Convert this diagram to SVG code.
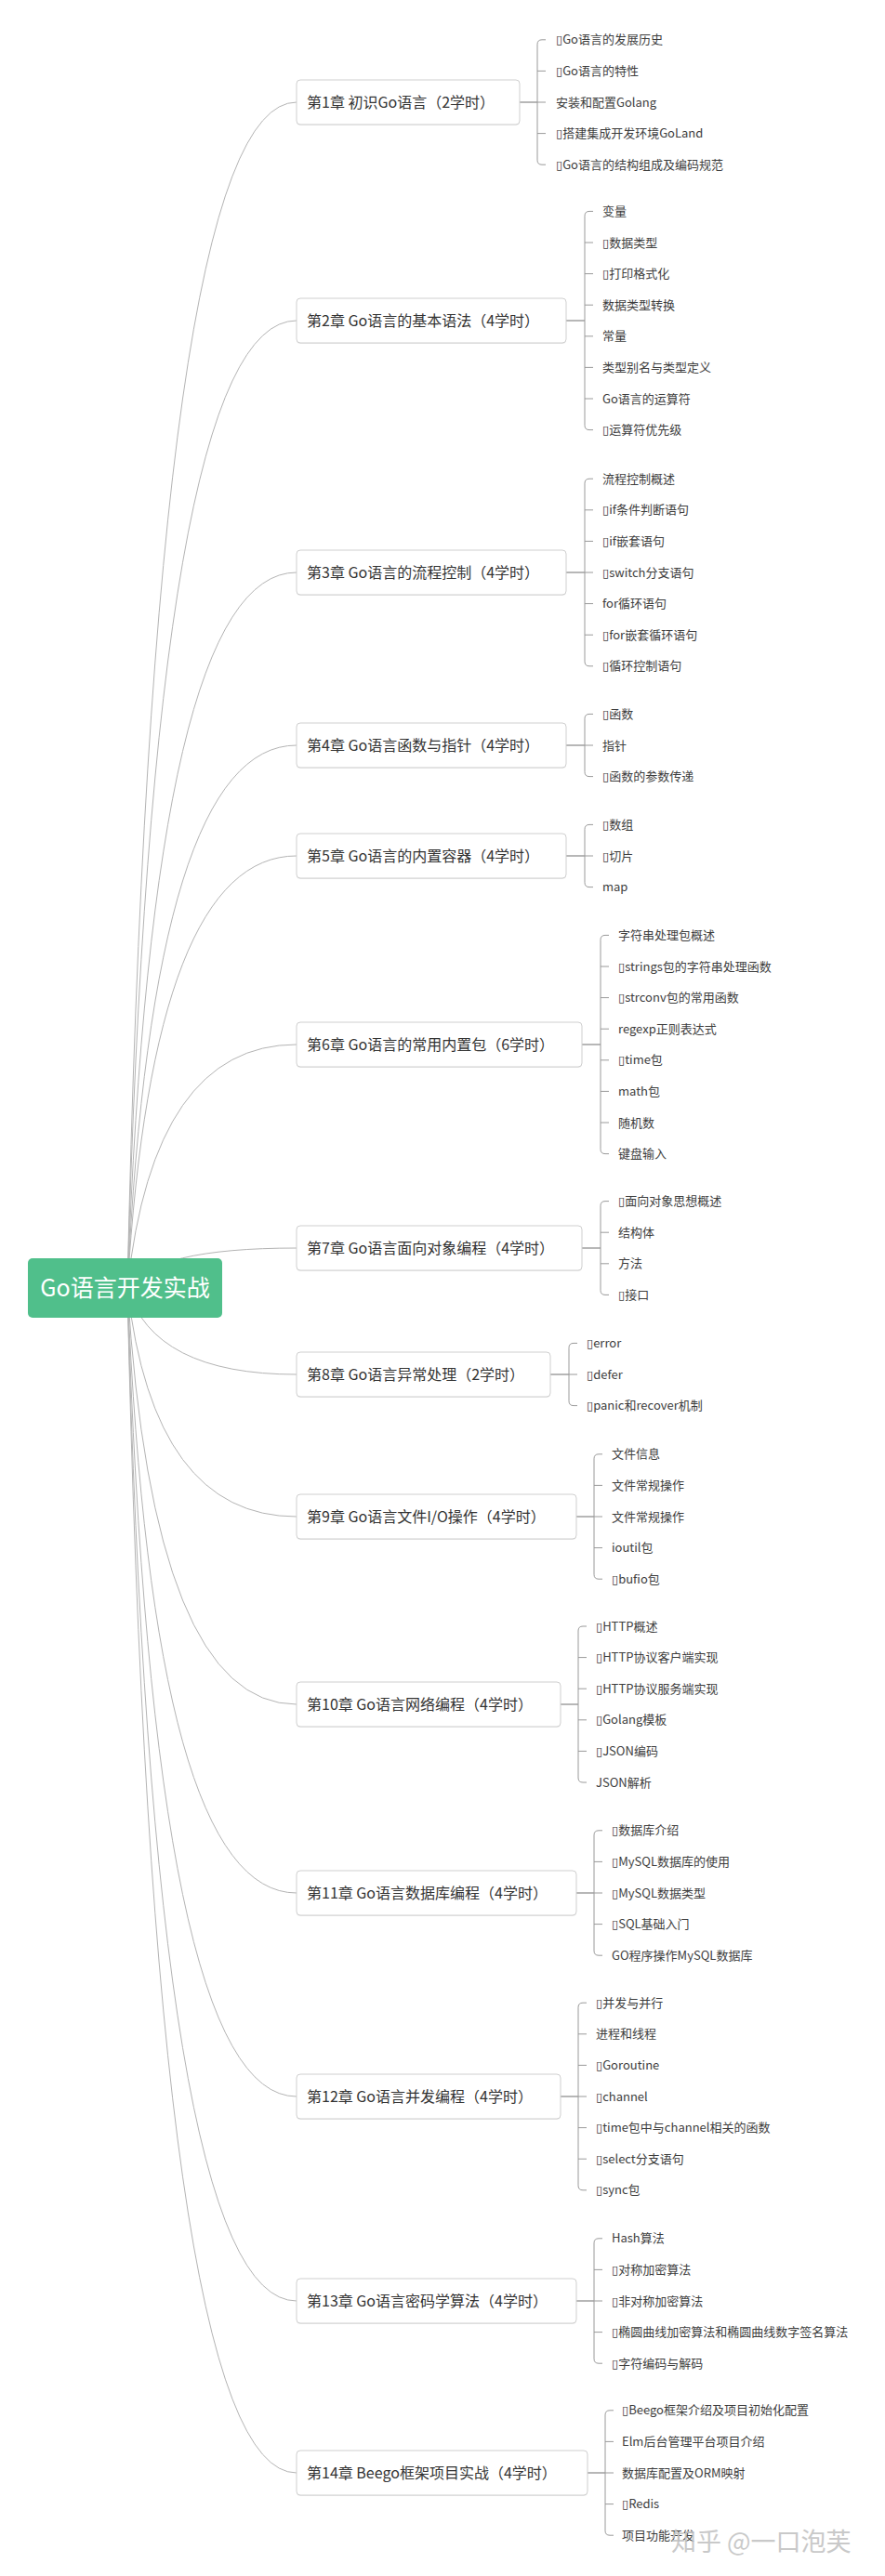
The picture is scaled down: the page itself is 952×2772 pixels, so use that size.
<svg xmlns="http://www.w3.org/2000/svg" width="952" height="2772" viewBox="0 0 952 2772">
<style>
.bg{fill:#ffffff}
.cv{fill:none;stroke:#b4b4b4;stroke-width:1}
.br{fill:none;stroke:#9a9a9a;stroke-width:1}
.st{fill:none;stroke:#999999;stroke-width:1.4}
.box{fill:#ffffff;stroke:#cfcfcf;stroke-width:1}
.sh{fill:#ededed}
.ct{font-family:"Noto Sans CJK SC","Noto Sans",sans-serif;font-size:16px;fill:#333333}
.it{font-family:"Noto Sans CJK SC","Noto Sans",sans-serif;font-size:13px;fill:#3d3d3d}
.t{font-family:"DejaVu Sans",sans-serif;font-size:13px}
.root{fill:#50bf8b}
.rt{font-family:"Noto Sans CJK SC","Noto Sans",sans-serif;font-size:25px;fill:#ffffff;text-anchor:middle}
.wm{font-family:"Noto Sans CJK SC","Noto Sans",sans-serif;font-size:27px;fill:#c4c4c4;opacity:0.9}
</style>
<rect class="bg" x="0" y="0" width="952" height="2772"/>
<g id="connectors">
<path class="cv" d="M137,1386 Q165,110 319,110"/>
<path class="cv" d="M137,1386 Q165,345 319,345"/>
<path class="cv" d="M137,1386 Q165,616 319,616"/>
<path class="cv" d="M137,1386 Q165,802 319,802"/>
<path class="cv" d="M137,1386 Q165,921 319,921"/>
<path class="cv" d="M137,1386 Q165,1124 319,1124"/>
<path class="cv" d="M137,1386 Q165,1343 319,1343"/>
<path class="cv" d="M137,1386 Q165,1479 319,1479"/>
<path class="cv" d="M137,1386 Q165,1632 319,1632"/>
<path class="cv" d="M137,1386 Q165,1834 319,1834"/>
<path class="cv" d="M137,1386 Q165,2037 319,2037"/>
<path class="cv" d="M137,1386 Q165,2256 319,2256"/>
<path class="cv" d="M137,1386 Q165,2476 319,2476"/>
<path class="cv" d="M137,1386 Q165,2661 319,2661"/>
<path class="st" d="M559,110 H578"/>
<path class="br" d="M587,42.8 H583 Q578,42.8 578,47.8 V172.2 Q578,177.2 583,177.2 H587 M578,76.4 H587 M578,110 H587 M578,143.6 H587"/>
<path class="st" d="M609,345 H629"/>
<path class="br" d="M638,227.4 H634 Q629,227.4 629,232.4 V457.6 Q629,462.6 634,462.6 H638 M629,261 H638 M629,294.6 H638 M629,328.2 H638 M629,361.8 H638 M629,395.4 H638 M629,429 H638"/>
<path class="st" d="M609,616 H629"/>
<path class="br" d="M638,515.2 H634 Q629,515.2 629,520.2 V711.8 Q629,716.8 634,716.8 H638 M629,548.8 H638 M629,582.4 H638 M629,616 H638 M629,649.6 H638 M629,683.2 H638"/>
<path class="st" d="M609,802 H629"/>
<path class="br" d="M638,768.4 H634 Q629,768.4 629,773.4 V830.6 Q629,835.6 634,835.6 H638 M629,802 H638"/>
<path class="st" d="M609,921 H629"/>
<path class="br" d="M638,887.4 H634 Q629,887.4 629,892.4 V949.6 Q629,954.6 634,954.6 H638 M629,921 H638"/>
<path class="st" d="M626,1124 H646"/>
<path class="br" d="M655,1006.4 H651 Q646,1006.4 646,1011.4 V1236.6 Q646,1241.6 651,1241.6 H655 M646,1040 H655 M646,1073.6 H655 M646,1107.2 H655 M646,1140.8 H655 M646,1174.4 H655 M646,1208 H655"/>
<path class="st" d="M626,1343 H646"/>
<path class="br" d="M655,1292.6 H651 Q646,1292.6 646,1297.6 V1388.4 Q646,1393.4 651,1393.4 H655 M646,1326.2 H655 M646,1359.8 H655"/>
<path class="st" d="M592,1479 H612"/>
<path class="br" d="M621,1445.4 H617 Q612,1445.4 612,1450.4 V1507.6 Q612,1512.6 617,1512.6 H621 M612,1479 H621"/>
<path class="st" d="M620,1632 H639"/>
<path class="br" d="M648,1564.8 H644 Q639,1564.8 639,1569.8 V1694.2 Q639,1699.2 644,1699.2 H648 M639,1598.4 H648 M639,1632 H648 M639,1665.6 H648"/>
<path class="st" d="M603,1834 H622"/>
<path class="br" d="M631,1750 H627 Q622,1750 622,1755 V1913 Q622,1918 627,1918 H631 M622,1783.6 H631 M622,1817.2 H631 M622,1850.8 H631 M622,1884.4 H631"/>
<path class="st" d="M620,2037 H639"/>
<path class="br" d="M648,1969.8 H644 Q639,1969.8 639,1974.8 V2099.2 Q639,2104.2 644,2104.2 H648 M639,2003.4 H648 M639,2037 H648 M639,2070.6 H648"/>
<path class="st" d="M603,2256 H622"/>
<path class="br" d="M631,2155.2 H627 Q622,2155.2 622,2160.2 V2351.8 Q622,2356.8 627,2356.8 H631 M622,2188.8 H631 M622,2222.4 H631 M622,2256 H631 M622,2289.6 H631 M622,2323.2 H631"/>
<path class="st" d="M620,2476 H639"/>
<path class="br" d="M648,2408.8 H644 Q639,2408.8 639,2413.8 V2538.2 Q639,2543.2 644,2543.2 H648 M639,2442.4 H648 M639,2476 H648 M639,2509.6 H648"/>
<path class="st" d="M632,2661 H651"/>
<path class="br" d="M660,2593.8 H656 Q651,2593.8 651,2598.8 V2723.2 Q651,2728.2 656,2728.2 H660 M651,2627.4 H660 M651,2661 H660 M651,2694.6 H660"/>
</g>
<g id="root">
<rect class="root" x="30" y="1354" width="209" height="64" rx="5"/>
<text class="rt" x="134.5" y="1395">Go语言开发实战</text>
</g>
<g id="ch1">
<rect class="sh" x="319" y="87" width="240" height="48" rx="4"/>
<rect class="box" x="319" y="86" width="240" height="48" rx="4"/>
<text class="ct" x="330" y="116">第1章 初识Go语言（2学时）</text>
<text class="it" x="598" y="47.3"><tspan class="t">▯</tspan>Go语言的发展历史</text>
<text class="it" x="598" y="80.9"><tspan class="t">▯</tspan>Go语言的特性</text>
<text class="it" x="598" y="114.5">安装和配置Golang</text>
<text class="it" x="598" y="148.1"><tspan class="t">▯</tspan>搭建集成开发环境GoLand</text>
<text class="it" x="598" y="181.7"><tspan class="t">▯</tspan>Go语言的结构组成及编码规范</text>
</g>
<g id="ch2">
<rect class="sh" x="319" y="322" width="290" height="48" rx="4"/>
<rect class="box" x="319" y="321" width="290" height="48" rx="4"/>
<text class="ct" x="330" y="351">第2章 Go语言的基本语法（4学时）</text>
<text class="it" x="648" y="231.9">变量</text>
<text class="it" x="648" y="265.5"><tspan class="t">▯</tspan>数据类型</text>
<text class="it" x="648" y="299.1"><tspan class="t">▯</tspan>打印格式化</text>
<text class="it" x="648" y="332.7">数据类型转换</text>
<text class="it" x="648" y="366.3">常量</text>
<text class="it" x="648" y="399.9">类型别名与类型定义</text>
<text class="it" x="648" y="433.5">Go语言的运算符</text>
<text class="it" x="648" y="467.1"><tspan class="t">▯</tspan>运算符优先级</text>
</g>
<g id="ch3">
<rect class="sh" x="319" y="593" width="290" height="48" rx="4"/>
<rect class="box" x="319" y="592" width="290" height="48" rx="4"/>
<text class="ct" x="330" y="622">第3章 Go语言的流程控制（4学时）</text>
<text class="it" x="648" y="519.7">流程控制概述</text>
<text class="it" x="648" y="553.3"><tspan class="t">▯</tspan>if条件判断语句</text>
<text class="it" x="648" y="586.9"><tspan class="t">▯</tspan>if嵌套语句</text>
<text class="it" x="648" y="620.5"><tspan class="t">▯</tspan>switch分支语句</text>
<text class="it" x="648" y="654.1">for循环语句</text>
<text class="it" x="648" y="687.7"><tspan class="t">▯</tspan>for嵌套循环语句</text>
<text class="it" x="648" y="721.3"><tspan class="t">▯</tspan>循环控制语句</text>
</g>
<g id="ch4">
<rect class="sh" x="319" y="779" width="290" height="48" rx="4"/>
<rect class="box" x="319" y="778" width="290" height="48" rx="4"/>
<text class="ct" x="330" y="808">第4章 Go语言函数与指针（4学时）</text>
<text class="it" x="648" y="772.9"><tspan class="t">▯</tspan>函数</text>
<text class="it" x="648" y="806.5">指针</text>
<text class="it" x="648" y="840.1"><tspan class="t">▯</tspan>函数的参数传递</text>
</g>
<g id="ch5">
<rect class="sh" x="319" y="898" width="290" height="48" rx="4"/>
<rect class="box" x="319" y="897" width="290" height="48" rx="4"/>
<text class="ct" x="330" y="927">第5章 Go语言的内置容器（4学时）</text>
<text class="it" x="648" y="891.9"><tspan class="t">▯</tspan>数组</text>
<text class="it" x="648" y="925.5"><tspan class="t">▯</tspan>切片</text>
<text class="it" x="648" y="959.1">map</text>
</g>
<g id="ch6">
<rect class="sh" x="319" y="1101" width="307" height="48" rx="4"/>
<rect class="box" x="319" y="1100" width="307" height="48" rx="4"/>
<text class="ct" x="330" y="1130">第6章 Go语言的常用内置包（6学时）</text>
<text class="it" x="665" y="1010.9">字符串处理包概述</text>
<text class="it" x="665" y="1044.5"><tspan class="t">▯</tspan>strings包的字符串处理函数</text>
<text class="it" x="665" y="1078.1"><tspan class="t">▯</tspan>strconv包的常用函数</text>
<text class="it" x="665" y="1111.7">regexp正则表达式</text>
<text class="it" x="665" y="1145.3"><tspan class="t">▯</tspan>time包</text>
<text class="it" x="665" y="1178.9">math包</text>
<text class="it" x="665" y="1212.5">随机数</text>
<text class="it" x="665" y="1246.1">键盘输入</text>
</g>
<g id="ch7">
<rect class="sh" x="319" y="1320" width="307" height="48" rx="4"/>
<rect class="box" x="319" y="1319" width="307" height="48" rx="4"/>
<text class="ct" x="330" y="1349">第7章 Go语言面向对象编程（4学时）</text>
<text class="it" x="665" y="1297.1"><tspan class="t">▯</tspan>面向对象思想概述</text>
<text class="it" x="665" y="1330.7">结构体</text>
<text class="it" x="665" y="1364.3">方法</text>
<text class="it" x="665" y="1397.9"><tspan class="t">▯</tspan>接口</text>
</g>
<g id="ch8">
<rect class="sh" x="319" y="1456" width="273" height="48" rx="4"/>
<rect class="box" x="319" y="1455" width="273" height="48" rx="4"/>
<text class="ct" x="330" y="1485">第8章 Go语言异常处理（2学时）</text>
<text class="it" x="631" y="1449.9"><tspan class="t">▯</tspan>error</text>
<text class="it" x="631" y="1483.5"><tspan class="t">▯</tspan>defer</text>
<text class="it" x="631" y="1517.1"><tspan class="t">▯</tspan>panic和recover机制</text>
</g>
<g id="ch9">
<rect class="sh" x="319" y="1609" width="301" height="48" rx="4"/>
<rect class="box" x="319" y="1608" width="301" height="48" rx="4"/>
<text class="ct" x="330" y="1638">第9章 Go语言文件I/O操作（4学时）</text>
<text class="it" x="658" y="1569.3">文件信息</text>
<text class="it" x="658" y="1602.9">文件常规操作</text>
<text class="it" x="658" y="1636.5">文件常规操作</text>
<text class="it" x="658" y="1670.1">ioutil包</text>
<text class="it" x="658" y="1703.7"><tspan class="t">▯</tspan>bufio包</text>
</g>
<g id="ch10">
<rect class="sh" x="319" y="1811" width="284" height="48" rx="4"/>
<rect class="box" x="319" y="1810" width="284" height="48" rx="4"/>
<text class="ct" x="330" y="1840">第10章 Go语言网络编程（4学时）</text>
<text class="it" x="641" y="1754.5"><tspan class="t">▯</tspan>HTTP概述</text>
<text class="it" x="641" y="1788.1"><tspan class="t">▯</tspan>HTTP协议客户端实现</text>
<text class="it" x="641" y="1821.7"><tspan class="t">▯</tspan>HTTP协议服务端实现</text>
<text class="it" x="641" y="1855.3"><tspan class="t">▯</tspan>Golang模板</text>
<text class="it" x="641" y="1888.9"><tspan class="t">▯</tspan>JSON编码</text>
<text class="it" x="641" y="1922.5">JSON解析</text>
</g>
<g id="ch11">
<rect class="sh" x="319" y="2014" width="301" height="48" rx="4"/>
<rect class="box" x="319" y="2013" width="301" height="48" rx="4"/>
<text class="ct" x="330" y="2043">第11章 Go语言数据库编程（4学时）</text>
<text class="it" x="658" y="1974.3"><tspan class="t">▯</tspan>数据库介绍</text>
<text class="it" x="658" y="2007.9"><tspan class="t">▯</tspan>MySQL数据库的使用</text>
<text class="it" x="658" y="2041.5"><tspan class="t">▯</tspan>MySQL数据类型</text>
<text class="it" x="658" y="2075.1"><tspan class="t">▯</tspan>SQL基础入门</text>
<text class="it" x="658" y="2108.7">GO程序操作MySQL数据库</text>
</g>
<g id="ch12">
<rect class="sh" x="319" y="2233" width="284" height="48" rx="4"/>
<rect class="box" x="319" y="2232" width="284" height="48" rx="4"/>
<text class="ct" x="330" y="2262">第12章 Go语言并发编程（4学时）</text>
<text class="it" x="641" y="2159.7"><tspan class="t">▯</tspan>并发与并行</text>
<text class="it" x="641" y="2193.3">进程和线程</text>
<text class="it" x="641" y="2226.9"><tspan class="t">▯</tspan>Goroutine</text>
<text class="it" x="641" y="2260.5"><tspan class="t">▯</tspan>channel</text>
<text class="it" x="641" y="2294.1"><tspan class="t">▯</tspan>time包中与channel相关的函数</text>
<text class="it" x="641" y="2327.7"><tspan class="t">▯</tspan>select分支语句</text>
<text class="it" x="641" y="2361.3"><tspan class="t">▯</tspan>sync包</text>
</g>
<g id="ch13">
<rect class="sh" x="319" y="2453" width="301" height="48" rx="4"/>
<rect class="box" x="319" y="2452" width="301" height="48" rx="4"/>
<text class="ct" x="330" y="2482">第13章 Go语言密码学算法（4学时）</text>
<text class="it" x="658" y="2413.3">Hash算法</text>
<text class="it" x="658" y="2446.9"><tspan class="t">▯</tspan>对称加密算法</text>
<text class="it" x="658" y="2480.5"><tspan class="t">▯</tspan>非对称加密算法</text>
<text class="it" x="658" y="2514.1"><tspan class="t">▯</tspan>椭圆曲线加密算法和椭圆曲线数字签名算法</text>
<text class="it" x="658" y="2547.7"><tspan class="t">▯</tspan>字符编码与解码</text>
</g>
<g id="ch14">
<rect class="sh" x="319" y="2638" width="313" height="48" rx="4"/>
<rect class="box" x="319" y="2637" width="313" height="48" rx="4"/>
<text class="ct" x="330" y="2667">第14章 Beego框架项目实战（4学时）</text>
<text class="it" x="669" y="2598.3"><tspan class="t">▯</tspan>Beego框架介绍及项目初始化配置</text>
<text class="it" x="669" y="2631.9">Elm后台管理平台项目介绍</text>
<text class="it" x="669" y="2665.5">数据库配置及ORM映射</text>
<text class="it" x="669" y="2699.1"><tspan class="t">▯</tspan>Redis</text>
<text class="it" x="669" y="2732.7">项目功能开发</text>
</g>
<g id="watermark">
<text class="wm" x="722" y="2745">知乎 @一口泡芙</text>
</g>
</svg>
